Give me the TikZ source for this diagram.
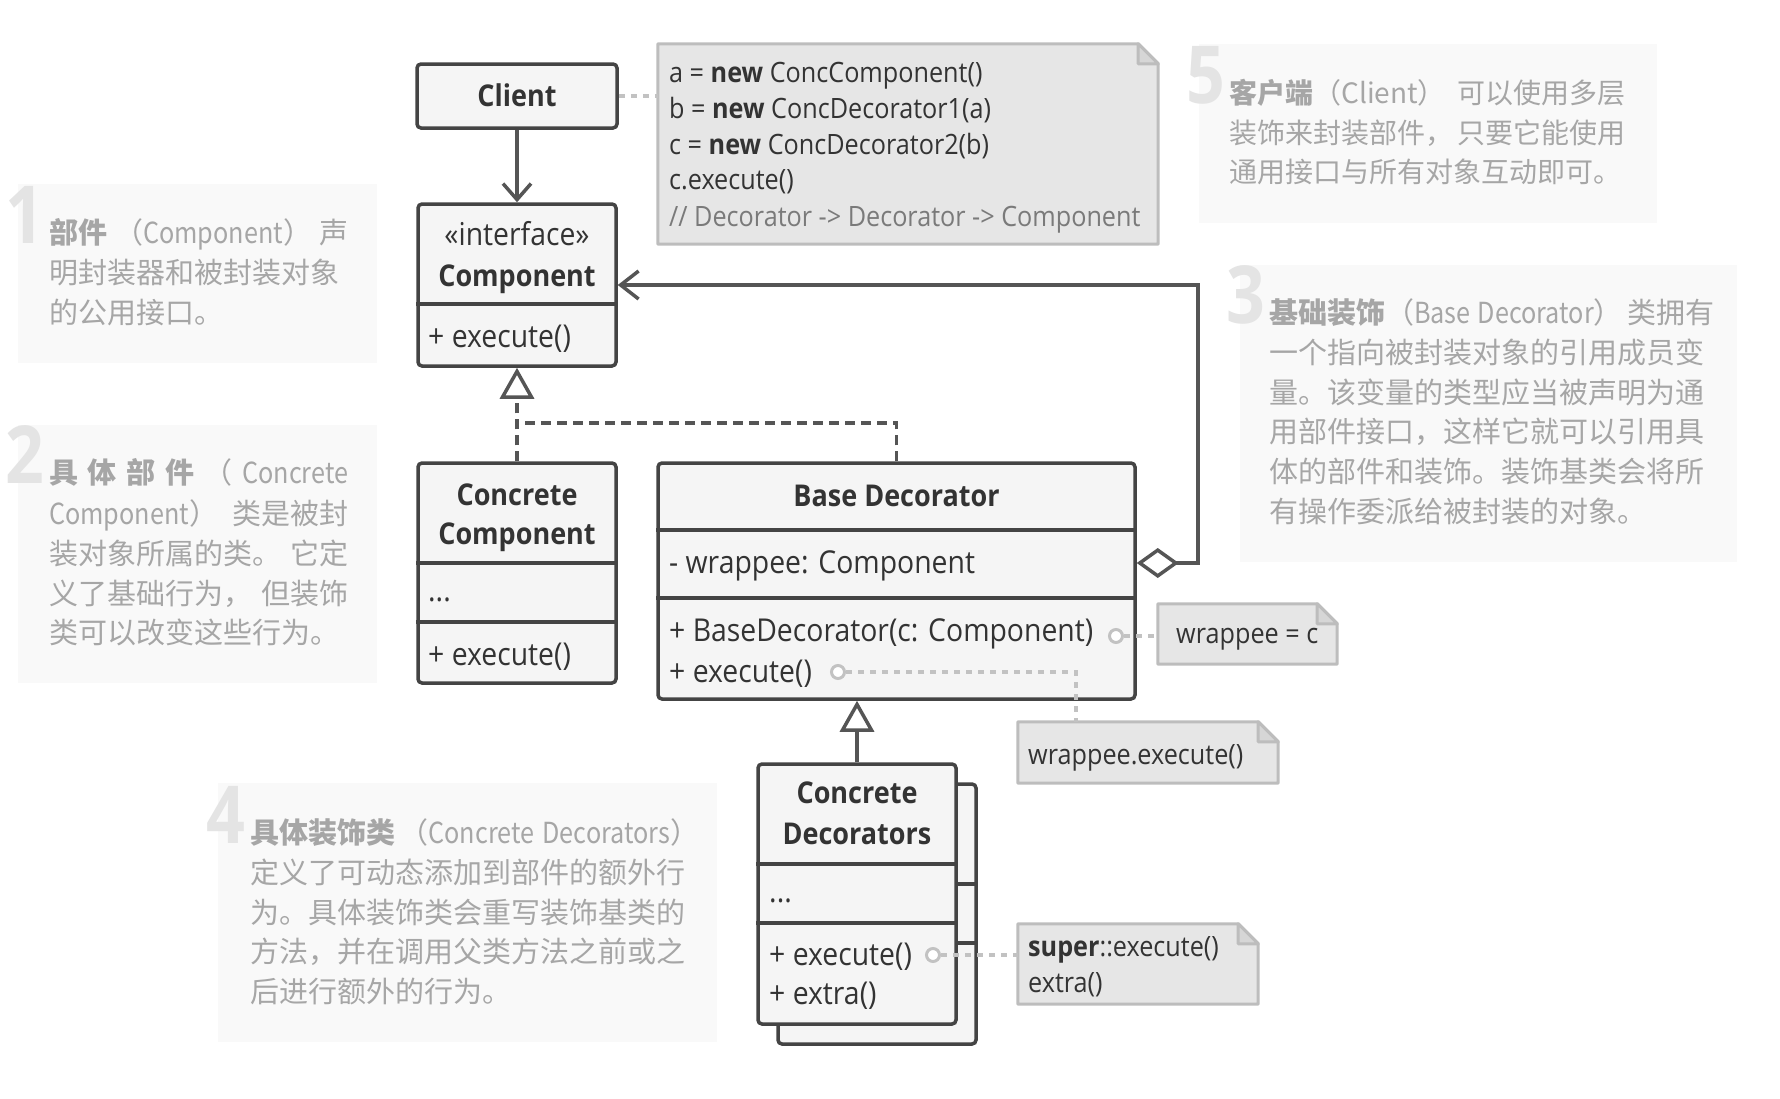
\documentclass[tikz,border=0pt]{standalone}
\usepackage{fontspec}
\setmainfont{Open Sans}[FakeStretch=0.9]
\newfontfamily\cjk{Noto Sans CJK SC}
\newfontfamily\cjklat{Noto Sans CJK SC}[FakeStretch=0.87]
\newfontfamily\numfont{Open Sans}[FakeStretch=0.85]
\usetikzlibrary{arrows.meta}
\definecolor{umlline}{HTML}{444444}
\definecolor{umlfill}{HTML}{F5F5F5}
\definecolor{conncol}{HTML}{555555}
\definecolor{notefill}{HTML}{E6E6E6}
\definecolor{notefold}{HTML}{D6D6D6}
\definecolor{noteline}{HTML}{BDBDBD}
\definecolor{dotline}{HTML}{C2C2C2}
\definecolor{descfill}{HTML}{F9F9F9}
\definecolor{desctext}{HTML}{A6A6A6}
\definecolor{numcol}{HTML}{E4E4E4}
\definecolor{txt}{HTML}{333333}
\definecolor{commentcol}{HTML}{7A7A7A}
\newcommand\drawnote[1]{%
  \draw[noteline, line width=3pt, fill=notefill, line join=round]
    (#1.north west) -- ([xshift=-20pt]#1.north east) -- ([yshift=-20pt]#1.north east)
    -- (#1.south east) -- (#1.south west) -- cycle;
  \draw[noteline, line width=3pt, fill=notefold, line join=round]
    ([xshift=-20pt]#1.north east) |- ([yshift=-20pt]#1.north east) -- cycle;
}
\newcommand\lat[1]{{\cjklat #1}}
\begin{document}
\begin{tikzpicture}[x=1pt,y=-1pt,
  umlbox/.style={draw=umlline, fill=umlfill, line width=3.5pt, rounded corners=4pt, inner sep=0pt},
  divider/.style={draw=umlline, line width=3.5pt},
  utxt/.style={anchor=base west, inner sep=0pt, text=txt, font=\fontsize{31.5}{36}\selectfont},
  ntxt/.style={anchor=base west, inner sep=0pt, text=txt, font=\fontsize{28}{34}\selectfont},
  ubold/.style={anchor=base, inner sep=0pt, text=txt, font=\bfseries\fontsize{30}{36}\selectfont},
  ucent/.style={anchor=base, inner sep=0pt, text=txt, font=\fontsize{31.5}{36}\selectfont},
  notebox/.style={inner sep=0pt},
  conn/.style={draw=conncol, line width=3.5pt},
  realize/.style={conn, dash pattern=on 10pt off 6pt},
  dotc/.style={draw=dotline, line width=3.5pt, dash pattern=on 6pt off 6pt},
  hole/.style={circle, draw=dotline, fill=white, line width=3pt, minimum size=13pt, inner sep=0pt},
  descbox/.style={fill=descfill, inner sep=0pt},
  desc/.style={anchor=base west, inner sep=0pt, text=desctext, font=\cjk\fontsize{29}{34}\selectfont},
  descs/.style={desc, font=\cjk\fontsize{28}{34}\selectfont},
  num/.style={anchor=base east, inner sep=0pt, text=numcol, font=\numfont\bfseries\fontsize{80}{80}\selectfont}
]
\fill[white] (0,0) rectangle (1780,1098);
\useasboundingbox (0,0) rectangle (1780,1098);

% ---------- description boxes ----------
\node[descbox, minimum width=359pt, minimum height=179pt] (box1) at (197.5,273.5) {};
\node[num] (n1) at (45,243) {1};
\node[desc] (d1a) at (49,243) {\makebox[299pt][s]{{\bfseries 部件} （\lat{Component}） 声}};
\node[desc] (d1b) at (49,283) {明封装器和被封装对象};
\node[desc] (d1c) at (49,323) {的公用接口。};

\node[descbox, minimum width=359pt, minimum height=258pt] (box2) at (197.5,554) {};
\node[num] (n2) at (45,483) {2};
\node[desc] (d2a) at (49,483) {\makebox[299pt][s]{{\bfseries 具 体 部 件} （ \lat{Concrete}}};
\node[desc] (d2b) at (49,524) {\makebox[299pt][s]{\lat{Component}） 类是被封}};
\node[desc] (d2c) at (49,564) {\makebox[299pt][s]{装对象所属的类。 它定}};
\node[desc] (d2d) at (49,604) {\makebox[299pt][s]{义了基础行为， 但装饰}};
\node[desc] (d2e) at (49,643) {类可以改变这些行为。};

\node[descbox, minimum width=497pt, minimum height=297pt] (box3) at (1488.5,413.5) {};
\node[num] (n3) at (1265,323) {3};
\node[desc] (d3a) at (1269,323) {\makebox[437pt][s]{{\bfseries 基础装饰}（\lat{Base}\hspace{7pt}\lat{Decorator}） 类拥有}};
\node[desc] (d3b) at (1269,363) {一个指向被封装对象的引用成员变};
\node[desc] (d3c) at (1269,403) {量。该变量的类型应当被声明为通};
\node[desc] (d3d) at (1269,442) {用部件接口，这样它就可以引用具};
\node[desc] (d3e) at (1269,482) {体的部件和装饰。装饰基类会将所};
\node[desc] (d3f) at (1269,522) {有操作委派给被封装的对象。};

\node[descbox, minimum width=499pt, minimum height=259pt] (box4) at (467.5,912.5) {};
\node[num] (n4) at (246,843) {4};
\node[desc] (d4a) at (250,843) {\makebox[437pt][s]{{\bfseries 具体装饰类} （\lat{Concrete}\hspace{8pt}\lat{Decorators}）}};
\node[desc] (d4b) at (250,883) {定义了可动态添加到部件的额外行};
\node[desc] (d4c) at (250,923) {为。具体装饰类会重写装饰基类的};
\node[desc] (d4d) at (250,962) {方法，并在调用父类方法之前或之};
\node[desc] (d4e) at (250,1002) {后进行额外的行为。};

\node[descbox, minimum width=458pt, minimum height=179pt] (box5) at (1428,133.5) {};
\node[num] (n5) at (1225,103) {5};
\node[descs] (d5a) at (1229,103) {\makebox[396pt][s]{{\bfseries 客户端}（Client） 可以使用多层}};
\node[descs] (d5b) at (1229,143) {\makebox[396pt][s]{装饰来封装部件， 只要它能使用}};
\node[descs] (d5c) at (1229,182) {通用接口与所有对象互动即可。};

% ---------- Client ----------
\node[umlbox, minimum width=200pt, minimum height=64pt] (client) at (517,96) {};
\node[ubold] (clientT) at (517,106) {Client};

% ---------- code note ----------
\node[notebox, minimum width=500pt, minimum height=200pt] (code) at (908,144) {};
\drawnote{code}
\node[ntxt] (code1) at (669,82) {a = \textbf{new} ConcComponent()};
\node[ntxt] (code2) at (669,118) {b = \textbf{new} ConcDecorator1(a)};
\node[ntxt] (code3) at (669,154) {c = \textbf{new} ConcDecorator2(b)};
\node[ntxt] (code4) at (669,189) {c.execute()};
\node[ntxt, text=commentcol] (code5) at (669,226) {// Decorator -> Decorator -> Component};

% ---------- Component ----------
\node[umlbox, minimum width=198pt, minimum height=162pt] (comp) at (517,285) {};
\coordinate (compD) at (0,304);
\draw[divider] (comp.west |- compD) -- (comp.east |- compD);
\node[ucent] (compS) at (517,245) {«interface»};
\node[ubold] (compT) at (517,286) {Component};
\node[utxt] (compM) at (428,347) {+ execute()};

% ---------- Concrete Component ----------
\node[umlbox, minimum width=198pt, minimum height=220pt] (cc) at (517,573) {};
\coordinate (ccD1) at (0,563);
\coordinate (ccD2) at (0,622);
\draw[divider] (cc.west |- ccD1) -- (cc.east |- ccD1);
\draw[divider] (cc.west |- ccD2) -- (cc.east |- ccD2);
\node[ubold] (ccT1) at (517,505) {Concrete};
\node[ubold] (ccT2) at (517,544) {Component};
\node[utxt] (ccF) at (428,601) {...};
\node[utxt] (ccM) at (428,665) {+ execute()};

% ---------- Base Decorator ----------
\node[umlbox, minimum width=477pt, minimum height=236pt] (bd) at (896.5,581) {};
\coordinate (bdD1) at (0,530);
\coordinate (bdD2) at (0,598);
\draw[divider] (bd.west |- bdD1) -- (bd.east |- bdD1);
\draw[divider] (bd.west |- bdD2) -- (bd.east |- bdD2);
\node[ubold] (bdT) at (896.5,506) {Base Decorator};
\node[utxt] (bdF) at (669,573) {- wrappee: Component};
\node[utxt] (bdM1) at (669,641) {+ BaseDecorator(c: Component)};
\node[utxt] (bdM2) at (669,682) {+ execute()};

% ---------- Concrete Decorators (stacked) ----------
\node[umlbox, minimum width=198pt, minimum height=260pt] (cdb) at (877,914) {};
\coordinate (cdbD1) at (0,884);
\coordinate (cdbD2) at (0,943);
\draw[divider] (cdb.west |- cdbD1) -- (cdb.east |- cdbD1);
\draw[divider] (cdb.west |- cdbD2) -- (cdb.east |- cdbD2);
\node[umlbox, minimum width=198pt, minimum height=260pt] (cdf) at (857,894) {};
\coordinate (cdfD1) at (0,864);
\coordinate (cdfD2) at (0,923);
\draw[divider] (cdf.west |- cdfD1) -- (cdf.east |- cdfD1);
\draw[divider] (cdf.west |- cdfD2) -- (cdf.east |- cdfD2);
\node[ubold] (cdT1) at (857,803) {Concrete};
\node[ubold] (cdT2) at (857,844) {Decorators};
\node[utxt] (cdF) at (769,902) {...};
\node[utxt] (cdM1) at (769,965) {+ execute()};
\node[utxt] (cdM2) at (769,1004) {+ extra()};

% ---------- small notes ----------
\node[notebox, minimum width=179pt, minimum height=60pt] (wc) at (1247.5,634) {};
\drawnote{wc}
\node[ntxt] (wcT) at (1176,643) {wrappee = c};

\node[notebox, minimum width=260pt, minimum height=61pt] (we) at (1148,752.5) {};
\drawnote{we}
\node[ntxt] (weT) at (1028,764) {wrappee.execute()};

\node[notebox, minimum width=240pt, minimum height=80pt] (sup) at (1138,964) {};
\drawnote{sup}
\node[ntxt] (supT1) at (1028,956) {\textbf{super}::execute()};
\node[ntxt] (supT2) at (1028,992) {extra()};

% ---------- connectors ----------
\draw[conn, -{Straight Barb[length=16pt,width=28pt]}] (client.south) -- (comp.north);
\draw[dotc] (client.east) -- (code.west |- client.east);

\coordinate (aggA) at (1198,563);
\coordinate (aggB) at (1198,285);
\draw[conn, {Diamond[fill=white,length=42pt,width=30pt]}-{Straight Barb[length=18pt,width=28pt]}]
  (bd.east |- aggA) -- (aggA) -- (aggB) -- (comp.east |- aggB);

\coordinate (jn) at (517,423);
\draw[realize, -{Triangle[fill=white,length=31pt,width=34pt]}] (cc.north) -- (comp.south);
\draw[realize] (bd.north) |- (jn);

\draw[conn, -{Triangle[fill=white,length=31pt,width=34pt]}] (cdf.north) -- (cdf.north |- bd.south);

\node[hole] (c1) at (1116,636) {};
\node[hole] (c2) at (838,672) {};
\node[hole] (c3) at (933,955) {};
\coordinate (bend) at (1076,672);
\draw[dotc] (c1.east) -- (c1 -| wc.west);
\draw[dotc] (c2.east) -- (bend) -- (bend |- we.north);
\draw[dotc] (c3.east) -- (c3 -| sup.west);
\end{tikzpicture}
\end{document}
